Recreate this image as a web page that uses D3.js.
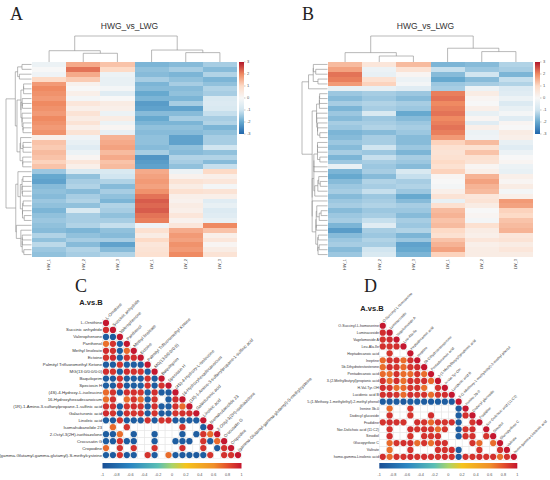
<!DOCTYPE html>
<html>
<head>
<meta charset="utf-8">
<script src="https://cdn.jsdelivr.net/npm/d3@7"></script>
<style>body{margin:0;background:#fff}</style>
</head>
<body>
<div id="fig"></div>
<script>
// ---- heatmaps (A, B): one array per sample column, 40 row bins top to bottom
const samples = ["HW_1", "HW_2", "HW_3", "LW_1", "LW_2", "LW_3"];
const heatTicks = [3, 2, 1, 0, -1, -2, -3];

const heatA1 = [-0.3, 0.0, -0.2, 1.0, 1.8, 2.0, 1.9, 1.8, 2.0, 1.9, 1.8, 2.0, 1.9, 1.8, 1.9, 0.3,
  1.3, 1.2, 1.4, 1.3, 1.1, 1.3,
  -1.5, -2.0, -2.1, -1.7, -1.6, -1.7, -1.5, -1.6, -1.8, -1.6, -1.5,
  -1.6, -1.7, -1.3, -1.6, -1.2, -1.5, -1.6];
const heatA2 = [1.6, 2.2, 1.6, 1.2, 0.2, 0.0, 0.3, -0.1, 0.6, 0.3, 0.7, 0.4, 0.7, 0.3, 0.7, -0.2,
  -0.4, -0.6, -0.3, 0.1, 0.6, 0.3,
  -0.8, -1.6, -1.4, -1.3, -1.7, -1.4, -1.3, -1.6, -0.8, -1.4, -1.4,
  -1.3, -1.8, -1.6, -1.4, -1.7, -1.3, -1.4];
const heatA3 = [1.3, 1.0, -0.3, -0.4, -0.4, -0.1, -0.6, 0.0, 0.4, 0.3, -0.3, 0.4, -0.3, 0.1, -0.4, 1.5,
  1.6, 1.7, 1.4, 1.6, 1.3, 1.4,
  -0.8, -1.0, -1.3, -1.7, -1.4, -1.6, -1.8, -1.3, -1.4, -1.6, -1.4,
  -1.1, -1.6, -1.7, -1.4, -2.1, -1.7, -1.3];
const heatA4 = [-1.8, -1.6, -1.7, -1.4, -1.8, -1.7, -2.0, -1.8, -2.2, -2.1, -1.7, -2.0, -1.8, -1.6, -1.7, -1.6,
  -1.6, -1.7, -1.4, -2.3, -2.2, -2.1,
  1.6, 1.7, 1.8, 1.7, 1.9, 2.2, 2.4, 2.3, 2.4, 2.2, 2.1,
  -0.2, 0.8, 0.4, 1.0, 0.6, 0.7, 0.8];
const heatA5 = [-1.7, -1.4, -1.8, -1.6, -1.4, -1.7, -1.6, -1.8, -1.4, -2.1, -1.7, -1.4, -1.8, -1.6, -1.7, -2.1,
  -2.1, -1.6, -1.7, -1.3, -1.4, -1.6,
  -0.3, 0.2, 0.7, 0.4, 0.8, 0.3, 0.2, 0.4, 0.3, 0.6, 0.2,
  0.6, 1.6, 1.8, 1.7, 1.9, 1.8, 2.0];
const heatA6 = [-1.4, -1.7, -1.3, -1.8, -1.6, -1.3, -1.4, -0.8, -0.7, -0.8, -1.1, -1.4, -1.3, -1.8, -1.6, -1.4,
  -1.4, -1.0, -1.6, -1.3, -1.7, -1.1,
  1.0, 0.3, 0.6, -0.1, 0.7, 0.3, -0.6, -0.4, -0.7, -0.6, -0.4,
  2.0, 1.3, 0.3, 0.6, 0.1, 0.4, 0.7];

const heatB1 = [1.4, 1.7, 2.2, 2.1, 1.8, -0.4,
  -1.5, -1.7, -1.4, -1.8, -1.5, -1.7, -1.4, -1.5, -1.8, -1.7,
  -1.5, -1.7, -1.4, -1.8, -1.5, -0.4, -1.8, -2.0, -1.7, -1.5, -1.4, -1.7,
  -1.5, -1.4, -1.7, -1.5, -1.4, -1.8, -2.2, -1.7, -1.5, -1.4, -1.7, -1.5];
const heatB2 = [0.6, -0.3, -0.4, 0.8, 1.1, -0.4,
  -1.4, -1.5, -1.3, -1.4, -0.8, -1.5, -1.4, -1.3, -1.7, -1.4,
  -1.4, -1.0, -1.5, -1.1, -1.4, -1.5, -1.4, -1.7, -1.3, -1.4, -1.1, -1.5,
  -1.4, -1.3, -1.5, -1.4, -1.1, -0.6, -1.4, -1.5, -1.3, -1.4, -1.0, -0.8];
const heatB3 = [1.4, 0.7, 0.1, -0.3, -0.1, -0.6,
  -1.5, -1.7, -1.4, -1.5, -2.0, -1.7, -1.5, -1.4, -1.5, -1.7,
  -1.7, -1.5, -1.8, -1.4, -1.5, -1.7, -0.8, -1.1, -1.4, -1.3, -1.5, -2.0,
  -1.7, -1.4, -1.5, -1.7, -1.4, -1.5, -1.3, -1.8, -1.5, -2.1, -2.0, -1.8];
const heatB4 = [-1.8, -1.1, -1.7, -2.0, -1.5, -1.4,
  2.1, 2.2, 2.0, 2.1, 2.2, 2.0, 2.1, 2.2, 2.1, 1.8,
  1.1, 0.8, 0.7, 0.8, 1.0, 0.8, 1.1, 0.1, 0.0, -0.1, 0.3, 0.7,
  -0.4, 0.8, 1.4, 1.5, 1.3, 1.4, 1.0, 0.8, 1.3, 1.5, 1.7, 1.1];
const heatB5 = [-1.7, -1.5, -1.0, -1.7, -1.4, -0.3,
  0.4, 0.1, 0.0, 0.3, -0.4, 0.1, -0.6, 0.3, -0.3, -0.2,
  1.4, 0.8, 1.3, 0.8, 0.7, 0.1, 0.3, 1.5, 1.7, 1.5, 1.4, 0.6,
  0.7, 0.4, 0.0, 0.1, -0.1, 0.8, 0.4, 0.3, 0.6, 0.3, 0.4, 0.4];
const heatB6 = [-1.3, -1.4, -1.8, -1.1, -1.3, -0.7,
  -0.6, -0.3, -0.7, -0.4, -0.1, -0.6, 0.1, 0.0, 0.4, 0.3,
  -0.4, -0.6, -0.3, 0.0, 0.1, -0.3, -0.4, 0.3, 0.1, 0.4, -0.1, 0.3,
  1.8, 1.7, 1.1, 1.0, 1.3, 1.4, 1.5, 0.6, 0.7, 0.4, 0.6, 0.4];

// column dendrograms (leaf = sample index, h = linkage height)
const colTreeA = {h: 10, c: [{h: 4.35, c: [0, {h: 3.35, c: [1, 2]}]}, {h: 4.6, c: [3, {h: 3.6, c: [4, 5]}]}]};
const colTreeB = {h: 10, c: [{h: 3.6, c: [0, {h: 2.3, c: [1, 2]}]}, {h: 5.3, c: [3, {h: 4.0, c: [4, 5]}]}]};

// ---- correlation triangles (C, D); null = not significant
const namesC = ["L-Ornithine", "Succinic anhydride", "Valerophenone", "Panthenol", "Methyl linoleate",
  "Ectoine", "Palmityl Trifluoromethyl Ketone", "MG(13:0/0:0/0:0)", "Baquiloprim", "Speciosin H",
  "(4S)-4-Hydroxy-L-isoleucine", "16-Hydroxyhexadecanoicum", "(1R)-1-Amino-3-sulfanylpropane-1-sulfinic acid",
  "Galacturonic acid", "Linoleic acid", "Isomahubanolide 23", "2-Octyl-3(2H)-isothiazolone",
  "Crocusatin G", "Cropodine", "(gamma-Glutamyl-gamma-glutamyl)-S-methylcysteine"];
const corrC = [
  [1],
  [0.92, 1],
  [-0.9, -0.91, 1],
  [0.7, 0.9, -0.88, 1],
  [0.93, 0.91, -0.9, 0.72, 1],
  [0.9, 0.94, -0.89, 0.91, 0.92, 1],
  [-0.91, -0.9, 0.9, -0.88, -0.9, -0.92, 1],
  [0.92, 0.9, -0.9, 0.93, 0.91, 0.9, -0.89, 1],
  [-0.9, -0.92, 0.91, -0.9, -0.89, -0.91, 0.9, -0.9, 1],
  [-0.89, -0.9, 0.92, -0.91, -0.9, -0.88, 0.91, -0.92, 0.9, 1],
  [0.72, 0.9, -0.9, 0.92, 0.91, 0.9, -0.88, 0.92, -0.9, -0.91, 1],
  [0.7, 0.91, null, 0.71, 0.9, 0.72, -0.88, 0.9, null, -0.9, 0.92, 1],
  [0.91, 0.92, -0.9, 0.9, 0.93, 0.91, -0.9, 0.92, -0.89, -0.9, 0.91, 0.72, 1],
  [0.93, 0.9, -0.91, 0.92, 0.9, 0.91, -0.9, 0.9, -0.92, -0.89, 0.9, 0.91, 0.92, 1],
  [-0.9, -0.91, 0.9, -0.92, -0.9, -0.9, 0.91, -0.9, 0.9, 0.92, -0.91, -0.9, -0.89, -0.9, 1],
  [null, 0.72, null, 0.9, null, null, null, null, null, null, null, 0.9, null, null, -0.9, 1],
  [-0.9, -0.91, 0.71, null, -0.9, null, null, -0.9, null, null, null, -0.89, null, -0.9, 0.9, 0.72, 1],
  [-0.9, -0.9, 0.91, -0.9, -0.92, null, null, -0.9, null, null, -0.89, -0.9, -0.91, null, 0.9, -0.9, 0.72, 1],
  [0.72, null, 0.9, null, 0.91, null, null, 0.9, null, null, null, 0.92, null, null, 0.9, null, -0.9, 0.91, 1],
  [-0.9, -0.92, 0.9, -0.91, -0.9, null, 0.9, -0.9, null, 0.71, -0.9, -0.91, -0.9, -0.92, -0.9, 0.9, null, 0.91, 0.9, 1]
];

const namesD = ["O-Succinyl-L-homoserine", "Luminacoside", "Vagelomoside A", "Leu-Ala-Ile", "Heptadecanoic acid",
  "Ineptine", "5b-Dihydrotestosterone", "Pentadecanoic acid", "3-(2-Methylbutyryl)propionic acid",
  "H-Val-Tyr-OH", "Lucidenic acid B", "5-(1-Methoxy-1-methylethyl)-2-methyl phenol", "Irenine 3b-0",
  "Dodecyl glucoside", "Fradidine", "Nor-Dolichoic acid (11:C2)", "Sinodiol", "Glucopyrifose C",
  "Valtrate", "homo-gamma-Linolenic acid"];
const corrD = [
  [1],
  [0.92, 1],
  [0.9, 0.93, 1],
  [0.91, 0.9, 0.92, 1],
  [null, 0.9, null, null, 1],
  [0.72, 0.9, 0.92, 0.71, 0.91, 1],
  [0.71, 0.92, 0.9, 0.72, 0.9, 0.93, 1],
  [0.72, 0.7, 0.91, 0.71, 0.72, 0.9, 0.71, 1],
  [0.9, 0.72, 0.92, 0.7, 0.91, 0.9, 0.92, 0.72, 1],
  [0.92, 0.9, 0.71, 0.72, 0.9, 0.91, 0.7, null, 0.9, 1],
  [0.91, 0.93, 0.9, 0.72, 0.92, 0.9, 0.91, 0.71, 0.9, 0.92, 1],
  [-0.9, -0.91, -0.9, -0.92, -0.9, -0.89, -0.9, -0.91, -0.9, -0.9, -0.92, 1],
  [null, 0.71, null, null, 0.9, null, null, null, null, null, null, -0.9, 1],
  [null, 0.91, null, null, 0.9, null, null, 0.92, null, null, null, -0.9, 0.91, 1],
  [0.9, 0.92, 0.91, 0.9, null, 0.92, 0.9, 0.72, 0.91, 0.9, 0.92, -0.9, null, 0.9, 1],
  [null, 0.9, null, null, 0.92, 0.9, 0.91, 0.9, 0.71, 0.9, null, -0.91, 0.9, 0.92, null, 1],
  [null, 0.92, null, null, 0.9, null, 0.91, 0.9, 0.92, null, null, -0.9, 0.9, 0.91, null, 0.9, 1],
  [null, 0.72, 0.9, 0.91, 0.92, 0.71, 0.9, 0.7, 0.9, 0.91, null, null, null, 0.9, 0.72, null, 0.71, 1],
  [null, 0.7, null, null, 0.9, null, null, null, 0.91, 0.9, 0.92, -0.9, null, null, 0.9, null, null, 0.91, 1],
  [0.92, 0.72, 0.91, 0.9, 0.93, 0.9, 0.92, 0.91, 0.9, 0.92, 0.9, -0.9, 0.91, 0.9, 0.92, 0.9, 0.91, 0.71, 0.9, 1]
];
const corrTicks = [-1, -0.8, -0.6, -0.4, -0.2, 0, 0.2, 0.4, 0.6, 0.8, 1];

// ---- colours
const heatColor = d3.scaleLinear()
  .domain([-3, -2, -1, 0, 1, 2, 3])
  .range(["#2166ac", "#67a9cf", "#d1e5f0", "#f7f7f7", "#fddbc7", "#ef8a62", "#b2182b"]);
const corrColor = d3.scaleLinear()
  .domain([-1, -0.6, -0.2, 0, 0.2, 0.6, 0.8, 1])
  .range(["#1a4f95", "#2b86c2", "#5bbfb4", "#a8d46a", "#f5c41b", "#f0902a", "#e4502d", "#c4172f"]);

const svg = d3.select("#fig").append("svg")
  .attr("width", 550).attr("height", 480)
  .attr("font-family", "Liberation Sans, Arial, sans-serif");
const defs = svg.append("defs");

// order-preserving average-linkage clustering of neighbouring rows
function adjCluster(rows) {
  const dist = (a, b) => Math.sqrt(d3.sum(a, (v, k) => (v - b[k]) ** 2));
  const link = (A, B) => d3.mean(A.leaves.flatMap(i => B.leaves.map(j => dist(rows[i], rows[j]))));
  let cl = rows.map((r, i) => ({leaves: [i], h: 0, leaf: i}));
  while (cl.length > 1) {
    let best = 0, bd = Infinity;
    for (let k = 0; k < cl.length - 1; k++) {
      const d = link(cl[k], cl[k + 1]);
      if (d < bd) { bd = d; best = k; }
    }
    const a = cl[best], b = cl[best + 1];
    cl.splice(best, 2, {leaves: a.leaves.concat(b.leaves), h: Math.max(bd, a.h, b.h), c: [a, b]});
  }
  return cl[0];
}

function letter(t, x, y) {
  svg.append("text").attr("x", x).attr("y", y)
    .attr("font-family", "Liberation Serif, Times New Roman, serif")
    .attr("font-size", 18).attr("fill", "#222").text(t);
}

function drawHeat(p) {
  const g = svg.append("g");
  const nRow = p.cols[0].length;
  const rows = d3.range(nRow).map(i => p.cols.map(c => c[i]));
  const x = d3.scaleBand().domain(d3.range(p.cols.length)).range([p.x0, p.x1]);
  const y = d3.scaleBand().domain(d3.range(nRow)).range([p.y0, p.y1]);

  g.append("g").selectAll("rect")
    .data(rows.flatMap((r, i) => r.map((v, j) => ({i, j, v}))))
    .join("rect")
    .attr("x", d => x(d.j)).attr("y", d => y(d.i))
    .attr("width", x.bandwidth() + 0.4).attr("height", y.bandwidth() + 0.4)
    .attr("fill", d => heatColor(d.v))
    .attr("shape-rendering", "crispEdges");

  const lines = g.append("g").attr("fill", "none").attr("stroke", "#8a8a8a").attr("stroke-width", 0.6);

  // column tree
  const hy = d3.scaleLinear().domain([0, p.colTree.h]).range([p.y0, p.treeTop]);
  (function walk(n) {
    if (typeof n === "number") return {x: x(n) + x.bandwidth() / 2, y: p.y0};
    const [a, b] = n.c.map(walk);
    const ny = hy(n.h);
    lines.append("path").attr("d", `M${a.x},${a.y}V${ny}H${b.x}V${b.y}`);
    return {x: (a.x + b.x) / 2, y: ny};
  })(p.colTree);

  // row tree
  const root = adjCluster(rows);
  const hx = d3.scalePow().exponent(0.5).domain([0, root.h]).range([p.x0 - 0.5, p.rootX]);
  (function walk(n) {
    if (!n.c) return {x: p.x0 - 0.5, y: y(n.leaf) + y.bandwidth() / 2};
    const [a, b] = n.c.map(walk);
    const nx = hx(n.h);
    lines.append("path").attr("d", `M${a.x},${a.y}H${nx}V${b.y}H${b.x}`);
    return {x: nx, y: (a.y + b.y) / 2};
  })(root);

  // sample labels
  g.append("g").selectAll("text").data(samples).join("text")
    .attr("transform", (d, j) => `translate(${x(j) + x.bandwidth() / 2},${p.y1 + 2}) rotate(-90)`)
    .attr("text-anchor", "end").attr("dy", "0.35em")
    .attr("font-size", 4).attr("fill", "#444").text(d => d);

  // colour bar
  const cb = d3.scaleLinear().domain([3, -3]).range([p.y0, p.y0 + 72]);
  const gid = "grad" + p.id;
  const grad = defs.append("linearGradient").attr("id", gid)
    .attr("x1", 0).attr("y1", 0).attr("x2", 0).attr("y2", 1);
  grad.selectAll("stop").data(heatColor.domain().slice().reverse()).join("stop")
    .attr("offset", d => (3 - d) / 6).attr("stop-color", d => heatColor(d));
  const cbx = p.x1 + 2;
  g.append("rect").attr("x", cbx).attr("y", cb(3)).attr("width", 5).attr("height", cb(-3) - cb(3))
    .attr("fill", `url(#${gid})`);
  g.append("g").selectAll("text").data(heatTicks).join("text")
    .attr("x", cbx + 8).attr("y", d => cb(d)).attr("dy", "0.35em")
    .attr("font-size", 4).attr("fill", "#555").text(d => d);
  g.append("g").selectAll("line").data(heatTicks).join("line")
    .attr("x1", cbx + 5).attr("x2", cbx + 6.5).attr("y1", d => cb(d)).attr("y2", d => cb(d))
    .attr("stroke", "#777").attr("stroke-width", 0.4);

  g.append("text").attr("x", (p.x0 + p.x1) / 2 - 5).attr("y", 29)
    .attr("text-anchor", "middle").attr("font-size", 8.5).attr("fill", "#333").text("HWG_vs_LWG");
}

function drawCorr(p) {
  const g = svg.append("g");
  const n = p.names.length;
  const xb = d3.scaleBand().domain(d3.range(n)).range([p.x0, p.x0 + n * p.cell]);
  const yb = d3.scaleBand().domain(d3.range(n)).range([p.y0, p.y0 + n * p.cell]);
  const cells = p.matrix.flatMap((row, i) => row.map((v, j) => ({i, j, v})));

  g.append("g").selectAll("rect").data(cells).join("rect")
    .attr("x", d => xb(d.j)).attr("y", d => yb(d.i))
    .attr("width", p.cell).attr("height", p.cell)
    .attr("fill", "none").attr("stroke", "#e4e4e4").attr("stroke-width", 0.4);

  g.append("g").selectAll("circle").data(cells.filter(d => d.v !== null)).join("circle")
    .attr("cx", d => xb(d.j) + p.cell / 2).attr("cy", d => yb(d.i) + p.cell / 2)
    .attr("r", p.cell * 0.45)
    .attr("fill", d => corrColor(d.v));

  g.append("g").selectAll("text.row").data(p.names).join("text")
    .attr("x", p.x0 - 0.4).attr("y", (d, i) => yb(i) + p.cell / 2).attr("dy", "0.35em")
    .attr("text-anchor", "end").attr("font-size", p.font).attr("fill", "#333").text(d => d);

  g.append("g").selectAll("text.col").data(p.names).join("text")
    .attr("transform", (d, j) => `translate(${xb(j) + p.cell / 2 + 1.3},${yb(j) + p.cell / 2 - 3.3}) rotate(-45)`)
    .attr("font-size", p.font).attr("fill", "#333").text(d => d);

  g.append("text").attr("x", p.titleX).attr("y", p.titleY).attr("text-anchor", "middle")
    .attr("font-size", 7.5).attr("font-weight", "bold").attr("fill", "#222").text("A.vs.B");

  // legend bar
  const lx = d3.scaleLinear().domain([-1, 1]).range([p.x0, p.x0 + n * p.cell]);
  const gid = "cgrad" + p.id;
  const grad = defs.append("linearGradient").attr("id", gid);
  grad.selectAll("stop").data(corrColor.domain()).join("stop")
    .attr("offset", d => (d + 1) / 2).attr("stop-color", d => corrColor(d));
  g.append("rect").attr("x", lx(-1)).attr("y", 463).attr("width", lx(1) - lx(-1)).attr("height", 5.5)
    .attr("fill", `url(#${gid})`);
  g.append("g").selectAll("text").data(corrTicks).join("text")
    .attr("x", d => lx(d)).attr("y", 476).attr("text-anchor", "middle")
    .attr("font-size", 3.8).attr("fill", "#555").text(d => d);
}

drawHeat({id: "A", cols: [heatA1, heatA2, heatA3, heatA4, heatA5, heatA6], colTree: colTreeA,
  x0: 32, x1: 237, y0: 62, y1: 257, treeTop: 36, rootX: 6});
drawHeat({id: "B", cols: [heatB1, heatB2, heatB3, heatB4, heatB5, heatB6], colTree: colTreeB,
  x0: 328, x1: 533, y0: 62, y1: 257, treeTop: 36, rootX: 302});

drawCorr({id: "C", names: namesC, matrix: corrC, x0: 102.5, y0: 319.5, cell: 6.95, font: 4.3,
  titleX: 91, titleY: 305});
drawCorr({id: "D", names: namesD, matrix: corrD, x0: 379.3, y0: 322.3, cell: 6.9, font: 3.6,
  titleX: 372, titleY: 311});

letter("A", 10, 20);
letter("B", 302, 20);
letter("C", 75, 291.5);
letter("D", 364, 292);
</script>
</body>
</html>
